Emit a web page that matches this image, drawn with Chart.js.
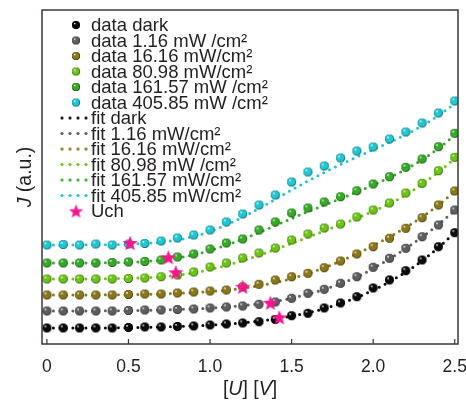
<!DOCTYPE html>
<html>
<head>
<meta charset="utf-8">
<script src="https://cdn.jsdelivr.net/npm/chart.js@4.4.1/dist/chart.umd.min.js"></script>
<style>
  body { margin: 0; background: #fff; }
  #wrap { width: 466px; height: 403px; }
</style>
</head>
<body>
<div id="wrap"><canvas id="ivCanvas" width="466" height="403"></canvas></div>
<script>
// bias voltage (V)
var volts = [0, 0.1, 0.2, 0.3, 0.4, 0.5, 0.6, 0.7, 0.8, 0.9, 1.0, 1.1, 1.2,
             1.3, 1.4, 1.5, 1.6, 1.7, 1.8, 1.9, 2.0, 2.1, 2.2, 2.3, 2.4, 2.5];

// measured current, arbitrary units
var dataDark  = [16, 16, 16, 16, 16, 16.5, 17, 17, 17.5, 18, 19, 20, 21, 22.3, 24.5, 28.3, 30.7, 36, 41, 47.3, 56, 64, 73.3, 84, 97.3, 111.3];
var data116   = [33, 33, 33, 33, 33, 33.5, 34, 34, 34.5, 35, 36, 37, 38, 39.7, 42, 45.7, 50.7, 54.7, 60.7, 67.3, 76.7, 85.7, 95.7, 107.3, 119, 134];
var data1616  = [49, 49, 49, 49, 49, 49.5, 50, 50, 51, 52, 53, 54, 57.3, 59.7, 64, 67.3, 70.7, 76.3, 83, 90, 97.3, 105.7, 115.7, 126.3, 139, 153];
var data8098  = [65, 65, 65, 65, 65, 65.5, 66, 67.3, 69, 72, 77, 81, 86, 91, 96, 104, 110, 116, 120, 127, 134, 141, 151, 160.7, 173.3, 186.7];
var data16157 = [81, 81, 81, 81, 81.5, 82, 82.5, 84, 87, 90, 95, 101, 105, 114, 122, 131, 136, 142, 147.3, 153.3, 160, 167.3, 176.7, 185, 197.3, 210.7];
var data40585 = [99, 99.5, 99, 100, 99, 100, 100.5, 103, 106, 109, 114, 122, 130, 139, 149, 162, 172, 178, 186, 193, 197, 205, 212, 221, 231, 243];

// fitted curves
var fitDark  = [16, 16, 16, 16, 16.1, 16.3, 16.6, 17, 17.5, 18.1, 18.9, 19.9, 21.2, 22.9, 25, 27.8, 31.2, 35.4, 40.5, 46.6, 53.8, 62.2, 72, 83.3, 96.5, 111.5];
var fit116   = [33, 33, 33, 33.1, 33.2, 33.4, 33.7, 34.1, 34.6, 35.2, 36, 37.1, 38.5, 40.3, 42.6, 45.8, 49.8, 54.5, 60.3, 67, 75.5, 85, 95.5, 107, 119.5, 133.5];
var fit1616  = [49, 49, 49, 49.1, 49.2, 49.4, 49.7, 50.1, 50.7, 51.5, 52.5, 53.9, 55.8, 58.3, 61.5, 65.5, 70.5, 76.3, 83, 90.3, 98.3, 107, 116.5, 127, 139, 152.5];
var fit8098  = [65, 65, 65, 65.1, 65.3, 65.6, 66.2, 67.2, 68.8, 71.2, 74.5, 78.5, 83.3, 88.7, 94.5, 100.6, 106.8, 113, 119.3, 125.8, 132.7, 140.3, 149, 160, 172, 185.5];
var fit16157 = [81, 81, 81, 81.1, 81.3, 81.7, 82.5, 83.8, 86, 89.2, 93.5, 98.8, 104.8, 111.5, 118.5, 125.5, 132.3, 138.9, 145.4, 152, 159, 166.5, 174.8, 184.2, 195.5, 209];
var fit40585 = [99, 99, 99.1, 99.2, 99.4, 99.8, 100.5, 101.8, 104, 107.5, 112.5, 119, 126.8, 135.5, 144.7, 154, 163, 171.5, 179.5, 187, 194.3, 201.7, 209.5, 218.3, 228.5, 240.5];

// Uch crossover points
var uchX = [1.425, 1.37, 1.2, 0.79, 0.745, 0.51];
var uchY = [26.7, 41.3, 57.3, 71.7, 86.7, 101];

var xTickVals   = [0, 0.5, 1.0, 1.5, 2.0, 2.5];
var xTickLabels = ['0', '0.5', '1.0', '1.5', '2.0', '2.5'];

var legendLabels = [
    'data dark', 'data 1.16 mW /cm\u00b2', 'data 16.16 mW/cm\u00b2', 'data 80.98 mW/cm\u00b2',
    'data 161.57 mW /cm\u00b2', 'data 405.85 mW /cm\u00b2',
    'fit dark', 'fit 1.16 mW/cm\u00b2', 'fit 16.16 mW/cm\u00b2', 'fit 80.98 mW /cm\u00b2',
    'fit 161.57 mW/cm\u00b2', 'fit 405.85 mW/cm\u00b2', 'Uch'
];

var colors = ['#0a0a0a', '#5e5e5e', '#8a7818', '#6cc414', '#34aa26', '#1ec8d2'];
var starColor = '#fa1490';
var textColor = '#231f20';

function makeBall(color, r) {
    var c = document.createElement('canvas');
    c.width = c.height = r * 2 + 2;
    var g = c.getContext('2d');
    var cx = r + 1, cy = r + 1;
    var grad = g.createRadialGradient(cx - r * 0.35, cy - r * 0.4, 0.3, cx, cy, r);
    grad.addColorStop(0, '#ffffff');
    grad.addColorStop(0.22, color);
    grad.addColorStop(0.8, color);
    grad.addColorStop(1, 'rgba(0,0,0,0.55)');
    g.beginPath();
    g.arc(cx, cy, r, 0, Math.PI * 2);
    g.fillStyle = color;
    g.fill();
    g.fillStyle = grad;
    g.fill();
    return c;
}

function makeStar(color, ro) {
    var c = document.createElement('canvas');
    c.width = c.height = ro * 2 + 2;
    var g = c.getContext('2d');
    var cx = ro + 1, cy = ro + 1, ri = ro * 0.42;
    g.beginPath();
    for (var k = 0; k < 10; k++) {
        var rr = k % 2 === 0 ? ro : ri;
        var a = -Math.PI / 2 + k * Math.PI / 5;
        g.lineTo(cx + rr * Math.cos(a), cy + rr * Math.sin(a) + ro * 0.1);
    }
    g.closePath();
    g.fillStyle = color;
    g.fill();
    return c;
}

function makeDots(color) {
    var c = document.createElement('canvas');
    c.width = 30; c.height = 5;
    var g = c.getContext('2d');
    g.fillStyle = color;
    for (var k = 0; k < 4; k++) {
        g.beginPath();
        g.arc(3 + k * 8, 2.5, 1.6, 0, Math.PI * 2);
        g.fill();
    }
    return c;
}

function pts(ys) {
    return volts.map(function (v, i) { return { x: v, y: ys[i] }; });
}

var dataSets = [dataDark, data116, data1616, data8098, data16157, data40585];
var fitSets  = [fitDark, fit116, fit1616, fit8098, fit16157, fit40585];

var balls = colors.map(function (c) { return makeBall(c, 4.5); });
var legendBalls = colors.map(function (c) { return makeBall(c, 4); });
var legendDots = colors.map(function (c) { return makeDots(c); });
var starImg = makeStar(starColor, 8);
var legendStar = makeStar(starColor, 7.5);

var datasets = [];
datasets.push({
    label: 'Uch',
    data: uchX.map(function (v, i) { return { x: v, y: uchY[i] }; }),
    pointStyle: starImg,
    showLine: false,
    order: 0
});
dataSets.forEach(function (ys, i) {
    datasets.push({
        label: legendLabels[i],
        data: pts(ys),
        pointStyle: balls[i],
        showLine: false,
        order: 1
    });
});
fitSets.forEach(function (ys, i) {
    datasets.push({
        label: legendLabels[i + 6],
        data: pts(ys),
        showLine: true,
        borderColor: colors[i],
        borderWidth: 3,
        borderDash: [0, 6.5],
        borderCapStyle: 'round',
        cubicInterpolationMode: 'monotone',
        pointRadius: 0,
        order: 2
    });
});

var legendImgs = legendBalls.concat(legendDots).concat([legendStar]);

var framePlugin = {
    id: 'frame',
    afterDraw: function (chart) {
        var ctx = chart.ctx, a = chart.chartArea;
        var xs = chart.scales.x;
        ctx.save();
        ctx.strokeStyle = '#3e3636';
        ctx.lineWidth = 1.5;
        ctx.strokeRect(a.left, a.top, a.right - a.left, a.bottom - a.top);
        ctx.lineWidth = 1.2;
        xTickVals.forEach(function (v) {
            var px = xs.getPixelForValue(v);
            ctx.beginPath();
            ctx.moveTo(px, a.bottom);
            ctx.lineTo(px, a.bottom - 5);
            ctx.stroke();
        });

        // legend
        ctx.fillStyle = textColor;
        ctx.font = '18.5px "Liberation Sans", Arial, sans-serif';
        ctx.textBaseline = 'middle';
        legendLabels.forEach(function (lab, i) {
            var y = 25 + i * 15.5;
            var img = legendImgs[i];
            if (i >= 6 && i < 12) {
                ctx.drawImage(img, 59, y - 2.5);
            } else {
                ctx.drawImage(img, 76 - img.width / 2, y - img.height / 2);
            }
            ctx.fillText(lab, 91, y + 1);
        });

        // axis titles
        var normal = '19.5px "Liberation Sans", Arial, sans-serif';
        var italic = 'italic 19.5px "Liberation Sans", Arial, sans-serif';
        var parts = [['[', normal], ['U', italic], ['] [', normal], ['V', italic], [']', normal]];
        var total = 0;
        parts.forEach(function (p) { ctx.font = p[1]; total += ctx.measureText(p[0]).width; });
        var cx = (a.left + a.right) / 2 - total / 2;
        parts.forEach(function (p) {
            ctx.font = p[1];
            ctx.textAlign = 'left';
            ctx.fillText(p[0], cx, 390);
            cx += ctx.measureText(p[0]).width;
        });

        ctx.translate(26, (a.top + a.bottom) / 2);
        ctx.rotate(-Math.PI / 2);
        var yparts = [['J', italic], [' (a.u.)', normal]];
        total = 0;
        yparts.forEach(function (p) { ctx.font = p[1]; total += ctx.measureText(p[0]).width; });
        cx = -total / 2;
        yparts.forEach(function (p) {
            ctx.font = p[1];
            ctx.fillText(p[0], cx, 0);
            cx += ctx.measureText(p[0]).width;
        });
        ctx.restore();
    }
};

var ivChart = new Chart(document.getElementById('ivCanvas'), {
    type: 'scatter',
    data: { datasets: datasets },
    options: {
        responsive: false,
        animation: false,
        devicePixelRatio: 1,
        layout: { padding: { left: 0, top: 10, right: 8, bottom: 0 } },
        plugins: { legend: { display: false }, tooltip: { enabled: false } },
        scales: {
            x: {
                type: 'linear',
                min: -0.03,
                max: 2.52,
                grid: { display: false },
                border: { display: false },
                afterBuildTicks: function (scale) {
                    scale.ticks = xTickVals.map(function (v) { return { value: v }; });
                },
                afterFit: function (scale) {
                    scale.height = 59;
                    scale.paddingLeft = 0;
                    scale.paddingRight = 0;
                },
                ticks: {
                    color: textColor,
                    font: { family: '"Liberation Sans", Arial, sans-serif', size: 17.5 },
                    padding: 5,
                    maxRotation: 0,
                    callback: function (v) {
                        var k = xTickVals.indexOf(v);
                        return k >= 0 ? xTickLabels[k] : '';
                    }
                }
            },
            y: {
                min: 0,
                max: 334,
                grid: { display: false },
                border: { display: false },
                ticks: { display: false },
                afterFit: function (scale) { scale.width = 42; }
            }
        }
    },
    plugins: [framePlugin]
});
</script>
</body>
</html>
